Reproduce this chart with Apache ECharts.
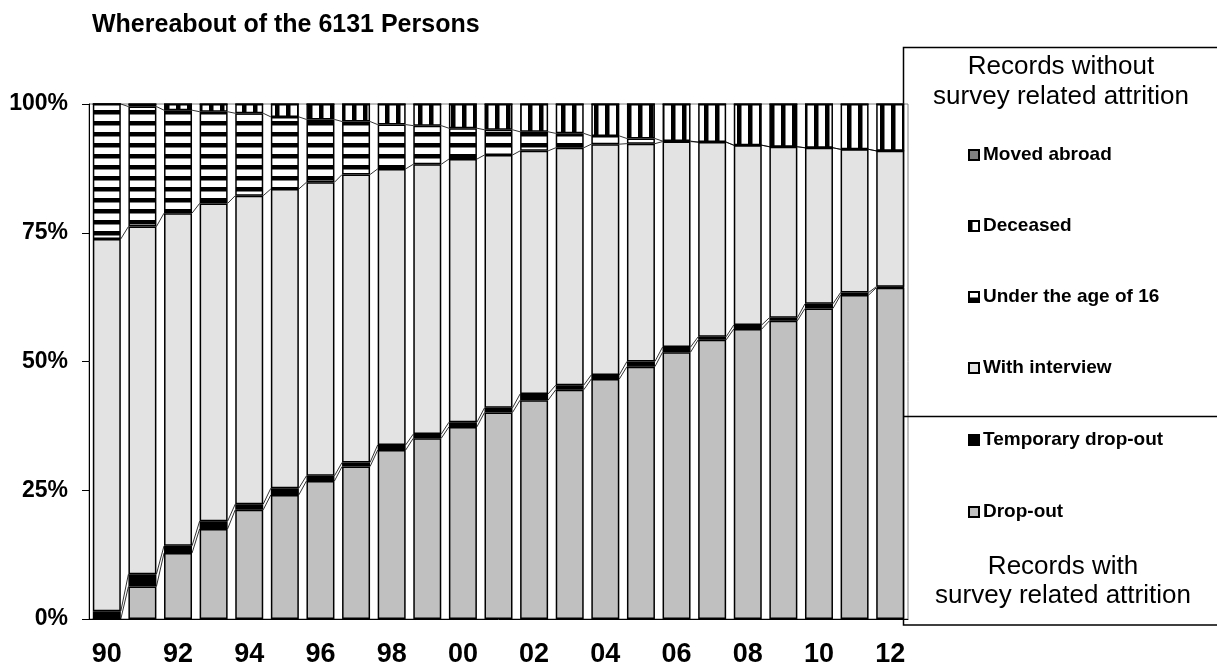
<!DOCTYPE html>
<html>
<head>
<meta charset="utf-8">
<script src="https://cdn.jsdelivr.net/npm/echarts@6/dist/echarts.min.js"></script>
<style>
html,body{margin:0;padding:0;background:#fff;}
#chart{width:1217px;height:671px;}
</style>
</head>
<body>
<div id="chart"></div>
<script>
// ---- data (percent of the 6131 persons) ----
const years = ['90','91','92','93','94','95','96','97','98','99','00','01','02','03','04','05','06','07','08','09','10','11','12'];
const dropOut       = [0, 6.3, 12.8, 17.5, 21.2, 24.1, 26.8, 29.6, 32.8, 35.1, 37.3, 40.1, 42.5, 44.5, 46.6, 49.0, 51.8, 54.2, 56.3, 57.9, 60.3, 62.9, 64.3];
const tempDropOut   = [1.5, 2.4, 1.4, 1.5, 1.1, 1.3, 1.0, 0.8, 1.0, 0.8, 0.9, 0.9, 1.2, 0.9, 0.8, 1.0, 1.0, 0.6, 0.8, 0.6, 0.9, 0.5, 0.2];
const withInterview = [72.3, 67.5, 64.6, 61.7, 59.9, 58.1, 57.0, 55.9, 53.6, 52.4, 51.1, 49.1, 47.2, 46.1, 44.8, 42.3, 39.9, 37.8, 34.9, 33.2, 30.3, 27.8, 26.4];
const under16       = [26.2, 23.3, 20.0, 17.8, 16.0, 14.0, 12.2, 10.3, 8.6, 7.5, 6.0, 4.9, 3.7, 2.8, 1.6, 1.0, 0.1, 0, 0, 0, 0, 0, 0];
const deceased      = [0, 0.5, 1.2, 1.5, 1.8, 2.5, 3.0, 3.4, 4.0, 4.2, 4.7, 5.0, 5.4, 5.7, 6.2, 6.7, 7.2, 7.4, 8.0, 8.3, 8.5, 8.8, 9.1];
const movedAbroad   = [0, 0, 0, 0, 0, 0, 0, 0, 0, 0, 0, 0, 0, 0, 0, 0, 0, 0, 0, 0, 0, 0, 0];
const yTicks = [0, 25, 50, 75, 100];

const FONT = "'Liberation Sans', Arial, sans-serif";

// ---- patterns ----
function stripeCanvas(vertical) {
  const c = document.createElement('canvas');
  c.width = 11; c.height = 11;
  const g = c.getContext('2d');
  g.fillStyle = '#fff'; g.fillRect(0, 0, 11, 11);
  g.fillStyle = '#000';
  if (vertical) g.fillRect(0, 0, 4.5, 11); else g.fillRect(0, 0, 11, 4.5);
  return c;
}
function iconURL(kind) {
  const c = document.createElement('canvas');
  c.width = 24; c.height = 24;
  const g = c.getContext('2d');
  const fills = {moved: '#808080', interview: '#e3e3e3', temp: '#000', drop: '#c0c0c0'};
  g.fillStyle = fills[kind] || '#fff';
  g.fillRect(0, 0, 24, 24);
  g.fillStyle = '#000';
  if (kind === 'deceased') g.fillRect(0, 0, 9, 24);
  if (kind === 'under16') g.fillRect(0, 13, 24, 11);
  g.lineWidth = 4; g.strokeStyle = '#000';
  g.strokeRect(2, 2, 20, 20);
  return 'image://' + c.toDataURL();
}

const hPattern = {image: stripeCanvas(false), repeat: 'repeat'};
const vPattern = {image: stripeCanvas(true), repeat: 'repeat'};

// cumulative boundaries for the series lines
const n = years.length;
const c1 = [], c2 = [], c3 = [], c4 = [];
for (let i = 0; i < n; i++) {
  c1.push(dropOut[i]);
  c2.push(dropOut[i] + tempDropOut[i]);
  c3.push(dropOut[i] + tempDropOut[i] + withInterview[i]);
  c4.push(dropOut[i] + tempDropOut[i] + withInterview[i] + under16[i]);
}
const lineRows = [];
for (let i = 0; i < n - 1; i++) {
  lineRows.push([i, c1[i], c2[i], c3[i], c4[i], c1[i + 1], c2[i + 1], c3[i + 1], c4[i + 1]]);
}

const BAR_FRAC = 0.786;
function barSeries(name, data, color) {
  return {
    name: name, type: 'bar', stack: 'all', data: data,
    barCategoryGap: '21.4%',
    itemStyle: {color: color, borderColor: '#000', borderWidth: 1.5},
    emphasis: {disabled: true},
    animation: false
  };
}

const legendDefs = [
  {name: 'Moved abroad', kind: 'moved', y: 155},
  {name: 'Deceased', kind: 'deceased', y: 226},
  {name: 'Under the age of 16', kind: 'under16', y: 297},
  {name: 'With interview', kind: 'interview', y: 368},
  {name: 'Temporary drop-out', kind: 'temp', y: 440},
  {name: 'Drop-out', kind: 'drop', y: 512}
];
const legends = legendDefs.map(d => ({
  data: [{name: d.name, icon: iconURL(d.kind)}],
  left: 968, top: d.y - 11, orient: 'vertical', padding: 0,
  itemWidth: 12, itemHeight: 12, itemGap: 0, selectedMode: false,
  textStyle: {fontFamily: FONT, fontSize: 19, fontWeight: 'bold', color: '#000', lineHeight: 22, padding: [0, 0, 0, -2]}
}));

const chart = echarts.init(document.getElementById('chart'), null, {renderer: 'canvas'});
chart.setOption({
  backgroundColor: '#fff',
  animation: false,
  title: {
    text: 'Whereabout of the 6131 Persons',
    left: 87, top: 8,
    textStyle: {fontFamily: FONT, fontSize: 25, fontWeight: 'bold', color: '#000'}
  },
  graphic: [
    {type: 'rect', z: -1, shape: {x: 903.5, y: 47.5, width: 320, height: 577.5},
     style: {fill: '#fff', stroke: '#000', lineWidth: 1.5}},
    {type: 'line', shape: {x1: 903.5, y1: 416.5, x2: 1217, y2: 416.5}, style: {stroke: '#000', lineWidth: 1.5}},
    {type: 'text', x: 1061, y: 67, style: {text: 'Records without', fontFamily: FONT, fontSize: 26, fill: '#000', align: 'center', verticalAlign: 'middle'}},
    {type: 'text', x: 1061, y: 97, style: {text: 'survey related attrition', fontFamily: FONT, fontSize: 26, fill: '#000', align: 'center', verticalAlign: 'middle'}},
    {type: 'text', x: 1063, y: 567, style: {text: 'Records with', fontFamily: FONT, fontSize: 26, fill: '#000', align: 'center', verticalAlign: 'middle'}},
    {type: 'text', x: 1063, y: 596, style: {text: 'survey related attrition', fontFamily: FONT, fontSize: 26, fill: '#000', align: 'center', verticalAlign: 'middle'}}
  ],
  legend: legends,
  grid: {left: 89, right: 309, top: 104, bottom: 52, show: true, borderColor: '#808080', borderWidth: 1, backgroundColor: 'transparent'},
  xAxis: {
    type: 'category', data: years,
    axisLine: {show: true, lineStyle: {color: '#000', width: 1}},
    axisTick: {show: false},
    axisLabel: {interval: 1, fontFamily: FONT, fontSize: 27, fontWeight: 'bold', color: '#000', margin: 22},
    splitLine: {show: false}
  },
  yAxis: {
    type: 'value', min: yTicks[0], max: yTicks[yTicks.length - 1], interval: 25,
    axisLine: {show: true, lineStyle: {color: '#000', width: 1}},
    axisTick: {show: true, length: 7, lineStyle: {color: '#000'}},
    axisLabel: {formatter: '{value}%', fontFamily: FONT, fontSize: 23, fontWeight: 'bold', color: '#000', margin: 21},
    splitLine: {show: false}
  },
  series: [
    barSeries('Drop-out', dropOut, '#c0c0c0'),
    barSeries('Temporary drop-out', tempDropOut, '#000000'),
    barSeries('With interview', withInterview, '#e3e3e3'),
    barSeries('Under the age of 16', under16, hPattern),
    barSeries('Deceased', deceased, vPattern),
    barSeries('Moved abroad', movedAbroad, '#808080'),
    {
      type: 'custom', name: 'series lines', silent: true, z: 5,
      data: lineRows,
      encode: {x: 0, y: [1, 2, 3, 4, 5, 6, 7, 8]},
      renderItem: function (params, api) {
        const i = api.value(0);
        const bw = api.size([1, 0])[0] * BAR_FRAC;
        const children = [];
        for (let k = 1; k <= 4; k++) {
          const p1 = api.coord([i, api.value(k)]);
          const p2 = api.coord([i + 1, api.value(k + 4)]);
          children.push({
            type: 'line',
            shape: {x1: p1[0] + bw / 2, y1: p1[1], x2: p2[0] - bw / 2, y2: p2[1]},
            style: {stroke: '#000', lineWidth: 0.8}
          });
        }
        return {type: 'group', children: children};
      }
    }
  ]
});
</script>
</body>
</html>
